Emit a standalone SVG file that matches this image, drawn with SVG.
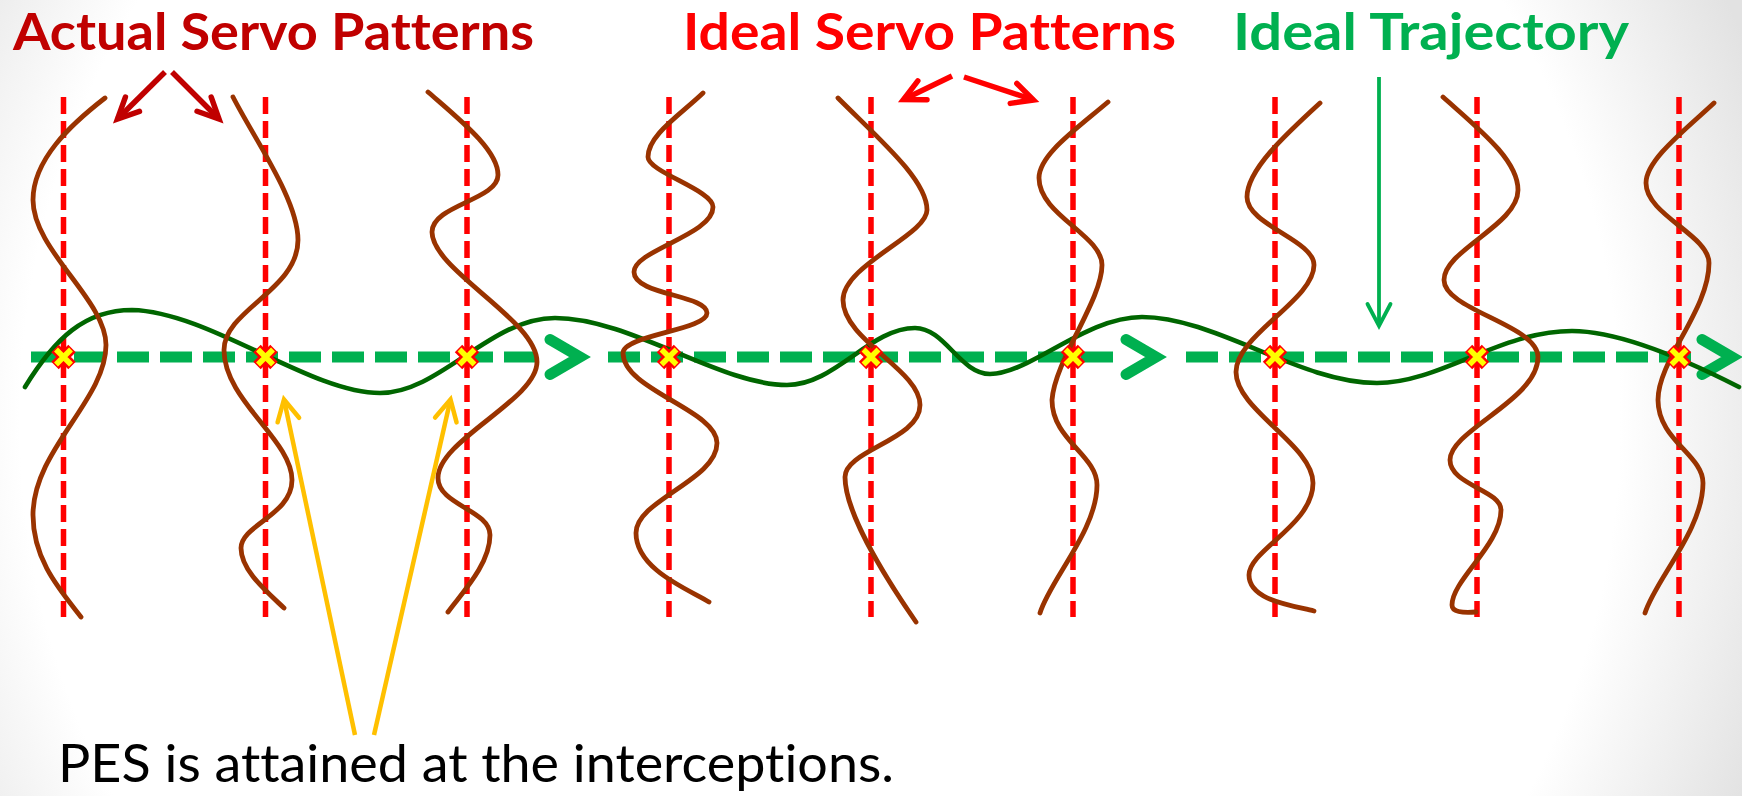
<svg xmlns="http://www.w3.org/2000/svg" xmlns:xlink="http://www.w3.org/1999/xlink" width="1742" height="796" viewBox="0 0 1742 796">
<style>
.title{font-family:Lato,"Liberation Sans",sans-serif;font-weight:bold;font-size:51px;font-variant-ligatures:none}
.caption{font-family:Lato,"Liberation Sans",sans-serif;font-size:52px;fill:#000000;font-variant-ligatures:none}
.guide{fill:none;stroke:#FF0000;stroke-width:5.5;stroke-dasharray:17 7}
.pattern{fill:none;stroke:#993300;stroke-width:4.8;stroke-linecap:round;stroke-linejoin:round}
.traj{fill:none;stroke:#00B050;stroke-width:11;stroke-dasharray:32 11}
.actual{fill:none;stroke:#006600;stroke-width:4.6;stroke-linecap:round}
.ptrDR{fill:none;stroke:#C00000;stroke-width:5.5}
.ptrR{fill:none;stroke:#FF0000;stroke-width:5.5}
.ptrG{fill:none;stroke:#00B050;stroke-width:3.8}
.ptrY{fill:none;stroke:#FFC000;stroke-width:4.5}
</style>
<defs>
<radialGradient id="bg" gradientUnits="userSpaceOnUse" cx="820" cy="420" r="1000">
<stop offset="0.8" stop-color="#FFFFFF"/>
<stop offset="1" stop-color="#E2E2E2"/>
</radialGradient>
<marker id="ahDR" markerUnits="userSpaceOnUse" orient="auto" overflow="visible" markerWidth="1" markerHeight="1" refX="0" refY="0">
<path d="M-21,-10 L0,0 L-21,10" fill="none" stroke="#C00000" stroke-width="5.5" stroke-linecap="round" stroke-linejoin="miter"/>
</marker>
<marker id="ahR" markerUnits="userSpaceOnUse" orient="auto" overflow="visible" markerWidth="1" markerHeight="1" refX="0" refY="0">
<path d="M-21,-10.5 L0,0 L-21,10.5" fill="none" stroke="#FF0000" stroke-width="5.5" stroke-linecap="round" stroke-linejoin="miter"/>
</marker>
<marker id="ahG" markerUnits="userSpaceOnUse" orient="auto" overflow="visible" markerWidth="1" markerHeight="1" refX="0" refY="0">
<path d="M-22,-11.5 L0,0 L-22,11.5" fill="none" stroke="#00B050" stroke-width="3.8" stroke-linecap="round" stroke-linejoin="miter"/>
</marker>
<marker id="ahY" markerUnits="userSpaceOnUse" orient="auto" overflow="visible" markerWidth="1" markerHeight="1" refX="0" refY="0">
<path d="M-21,-11 L0,0 L-21,11" fill="none" stroke="#FFC000" stroke-width="4.5" stroke-linecap="round" stroke-linejoin="miter"/>
</marker>
<path id="chev" d="M-30,-17.5 L0,0 L-30,17.5" fill="none" stroke="#00B050" stroke-width="11" stroke-linecap="round" stroke-linejoin="miter"/>
<g id="xm">
<path d="M-8.5,-8.5 L8.5,8.5 M-8.5,8.5 L8.5,-8.5" fill="none" stroke="#FF0000" stroke-width="10.5"/>
<path d="M-7.5,-7.5 L7.5,7.5 M-7.5,7.5 L7.5,-7.5" fill="none" stroke="#FFFF00" stroke-width="5.5"/>
</g>
</defs>
<rect x="0" y="0" width="1742" height="796" fill="url(#bg)"/>

<g id="titles">
<text id="title-actual" class="title" x="13" y="50" fill="#C00000" textLength="521" lengthAdjust="spacingAndGlyphs">Actual Servo Patterns</text>
<text id="title-ideal" class="title" x="683" y="50" fill="#FF0000" textLength="493" lengthAdjust="spacingAndGlyphs">Ideal Servo Patterns</text>
<text id="title-traj" class="title" x="1233" y="50" fill="#00B050" textLength="396" lengthAdjust="spacingAndGlyphs">Ideal Trajectory</text>
</g>

<g id="ideal-servo-lines">
<line class="guide" x1="63.5" y1="97" x2="63.5" y2="617"/>
<line class="guide" x1="265.5" y1="97" x2="265.5" y2="617"/>
<line class="guide" x1="467" y1="97" x2="467" y2="617"/>
<line class="guide" x1="669" y1="97" x2="669" y2="617"/>
<line class="guide" x1="871" y1="97" x2="871" y2="617"/>
<line class="guide" x1="1073" y1="97" x2="1073" y2="617"/>
<line class="guide" x1="1275" y1="97" x2="1275" y2="617"/>
<line class="guide" x1="1477" y1="97" x2="1477" y2="617"/>
<line class="guide" x1="1679" y1="97" x2="1679" y2="617"/>
</g>

<g id="ideal-trajectory">
<line class="traj" x1="31" y1="357" x2="536" y2="357"/>
<use xlink:href="#chev" href="#chev" transform="translate(580,357)"/>
<line class="traj" x1="608" y1="357" x2="1113" y2="357"/>
<use xlink:href="#chev" href="#chev" transform="translate(1156,357)"/>
<line class="traj" x1="1186" y1="357" x2="1691" y2="357"/>
<use xlink:href="#chev" href="#chev" transform="translate(1732,357)"/>
</g>

<g id="actual-trajectory">
<path class="actual" d="M25,387 C55,338 85,310 132,310 C210,312 310,393 380,393 C440,393 490,318 555,318 C630,318 720,385 787,385 C835,385 870,328 915,328 C945,328 960,374 990,374 C1030,374 1085,317 1142,317 C1215,317 1300,383 1377,383 C1440,383 1500,331 1572,331 C1620,331 1690,362 1739,387"/>
</g>

<g id="actual-servo-patterns">
<path id="sp1" class="pattern" d="M105,98 C70,125 33,160 33,200 C33,250 106,300 106,345 C106,400 33,450 33,515 C33,560 60,590 81,617"/>
<path id="sp2" class="pattern" d="M233,97 C255,140 298,200 298,240 C298,290 224,310 224,350 C224,400 292,440 292,480 C292,515 241,525 241,548 C241,570 265,590 284,608"/>
<path id="sp3" class="pattern" d="M428,92 C460,120 498,150 498,175 C498,200 432,205 432,232 C432,270 537,320 537,362 C537,400 438,440 438,478 C438,505 490,510 490,535 C490,565 460,595 448,612"/>
<path id="sp4" class="pattern" d="M703,93 C680,115 648,135 648,157 C648,172 713,190 713,207 C713,235 634,250 634,272 C634,295 707,295 707,313 C707,330 623,335 623,353 C623,390 717,410 717,443 C717,480 636,500 636,533 C636,570 690,590 709,602"/>
<path id="sp5" class="pattern" d="M838,98 C880,140 927,180 927,210 C927,235 843,265 843,300 C843,340 920,370 920,405 C920,440 845,450 845,477 C845,510 880,570 916,622"/>
<path id="sp6" class="pattern" d="M1108,102 C1075,130 1039,155 1039,178 C1039,215 1102,235 1102,265 C1102,300 1055,360 1052,400 C1052,440 1097,455 1097,485 C1097,530 1050,580 1040,613"/>
<path id="sp7" class="pattern" d="M1320,103 C1285,135 1247,170 1247,197 C1247,225 1314,240 1314,265 C1314,300 1236,335 1236,372 C1236,410 1313,445 1313,483 C1313,525 1249,550 1249,575 C1249,600 1290,605 1314,611"/>
<path id="sp8" class="pattern" d="M1443,97 C1480,130 1518,160 1518,190 C1518,225 1444,250 1444,280 C1444,310 1538,325 1538,357 C1538,400 1450,430 1450,460 C1450,485 1501,490 1501,510 C1501,545 1452,580 1452,605 C1452,612 1462,613 1476,612"/>
<path id="sp9" class="pattern" d="M1714,103 C1685,130 1646,160 1646,183 C1646,215 1709,235 1709,263 C1709,310 1658,360 1658,400 C1658,440 1703,455 1703,483 C1703,530 1655,580 1645,613"/>
</g>

<g id="interceptions">
<use xlink:href="#xm" href="#xm" x="63.5" y="357"/>
<use xlink:href="#xm" href="#xm" x="265.5" y="357"/>
<use xlink:href="#xm" href="#xm" x="467" y="357"/>
<use xlink:href="#xm" href="#xm" x="669" y="357"/>
<use xlink:href="#xm" href="#xm" x="871" y="357"/>
<use xlink:href="#xm" href="#xm" x="1073" y="357"/>
<use xlink:href="#xm" href="#xm" x="1275" y="357"/>
<use xlink:href="#xm" href="#xm" x="1477" y="357"/>
<use xlink:href="#xm" href="#xm" x="1679" y="357"/>
</g>

<g id="connectors">
<line class="ptrDR" x1="165" y1="72" x2="117.5" y2="119" marker-end="url(#ahDR)"/>
<line class="ptrDR" x1="172" y1="72" x2="219" y2="119" marker-end="url(#ahDR)"/>
<line class="ptrR" x1="952" y1="76" x2="903.5" y2="99.5" marker-end="url(#ahR)"/>
<line class="ptrR" x1="964" y1="77" x2="1033.5" y2="100" marker-end="url(#ahR)"/>
<line class="ptrG" x1="1379" y1="77" x2="1379" y2="326" marker-end="url(#ahG)"/>
<line class="ptrY" x1="355" y1="735" x2="284" y2="399.5" marker-end="url(#ahY)"/>
<line class="ptrY" x1="374" y1="735" x2="450.5" y2="399.5" marker-end="url(#ahY)"/>
</g>

<g id="caption">
<text class="caption" x="58" y="782" textLength="836" lengthAdjust="spacingAndGlyphs">PES is attained at the interceptions.</text>
</g>
</svg>
